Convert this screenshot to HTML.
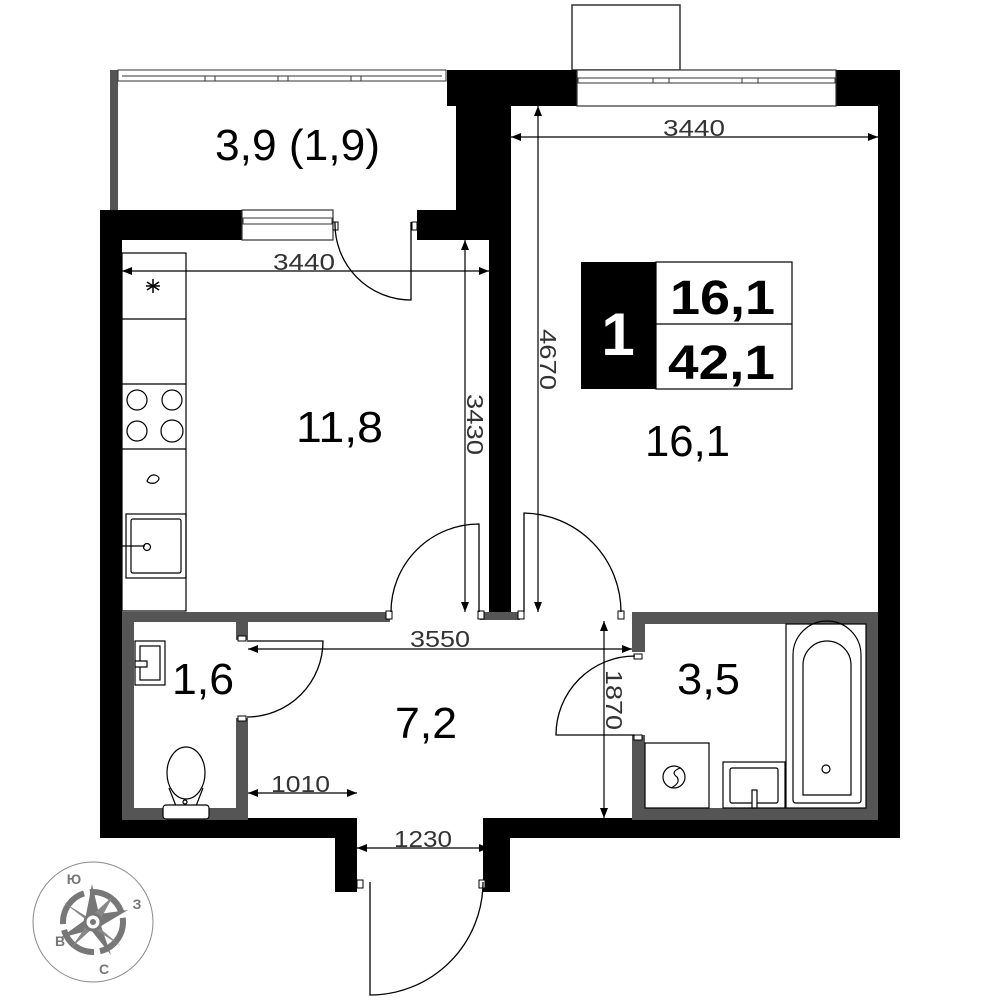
<!DOCTYPE html>
<html><head><meta charset="utf-8"><style>
html,body{margin:0;padding:0;background:#fff;}
svg{display:block;}
text{font-family:"Liberation Sans","DejaVu Sans",sans-serif;}
</style></head><body>
<svg width="1000" height="1000" viewBox="0 0 1000 1000" xmlns="http://www.w3.org/2000/svg">
<defs>
<marker id="ar" viewBox="0 0 10 10" refX="10" refY="5" markerWidth="20" markerHeight="10" markerUnits="userSpaceOnUse" orient="auto-start-reverse"><path d="M0,1 L10,5 L0,9 z" fill="#000"/></marker>
</defs>
<!-- balcony -->
<rect x="110" y="70" width="8" height="140" fill="#555"/>
<rect x="118" y="70" width="328" height="11" fill="#fff" stroke="#333" stroke-width="1"/>
<line x1="122" y1="76" x2="442" y2="76" stroke="#333"/>
<rect x="205" y="76" width="10" height="5" fill="#fff" stroke="#333"/>
<rect x="278" y="76" width="10" height="5" fill="#fff" stroke="#333"/>
<rect x="351" y="76" width="10" height="5" fill="#fff" stroke="#333"/>
<!-- top window box -->
<rect x="572" y="5" width="108" height="65" fill="#fff" stroke="#333" stroke-width="1.5"/>
<!-- black walls -->
<g fill="#000">
<rect x="447" y="70" width="130" height="36"/>
<rect x="456" y="70" width="55" height="170"/>
<rect x="489" y="100" width="22" height="520"/>
<rect x="836" y="70" width="64" height="36"/>
<rect x="878" y="70" width="22" height="768"/>
<rect x="100" y="210" width="22" height="628"/>
<rect x="100" y="210" width="142" height="30"/>
<rect x="417" y="210" width="73" height="30"/>
<rect x="100" y="818" width="257" height="20"/>
<rect x="490" y="818" width="410" height="20"/>
<rect x="335" y="818" width="22" height="74"/>
<rect x="483" y="818" width="27" height="74"/>
</g>
<!-- windows in black walls -->
<rect x="577" y="70" width="259" height="36" fill="#fff" stroke="#333" stroke-width="1.2"/>
<line x1="577" y1="78" x2="836" y2="78" stroke="#333"/>
<rect x="578" y="78" width="257" height="5" fill="#fff" stroke="#333"/>
<rect x="653" y="78" width="16" height="5" fill="#fff" stroke="#333"/>
<rect x="742" y="78" width="16" height="5" fill="#fff" stroke="#333"/>
<rect x="242" y="210" width="91" height="30" fill="#fff" stroke="#333" stroke-width="1.2"/>
<rect x="243" y="218" width="89" height="6" fill="#fff" stroke="#333"/>
<!-- grey partitions -->
<g fill="#555">
<rect x="122" y="612" width="268" height="10"/>
<rect x="480" y="612" width="40" height="8"/>
<rect x="632" y="612" width="246" height="12"/>
<rect x="122" y="612" width="12" height="208"/>
<rect x="122" y="808" width="126" height="12"/>
<rect x="236" y="612" width="12" height="28"/>
<rect x="236" y="718" width="12" height="102"/>
<rect x="632" y="612" width="13" height="40"/>
<rect x="632" y="735" width="13" height="85"/>
<rect x="866" y="612" width="12" height="208"/>
<rect x="632" y="808" width="246" height="12"/>
</g>
<!-- door stops -->
<g fill="#fff" stroke="#000" stroke-width="1">
<rect x="386" y="611" width="6" height="8"/><rect x="478" y="611" width="6" height="8"/>
<rect x="518" y="611" width="6" height="8"/><rect x="618" y="611" width="6" height="8"/>
<rect x="238" y="636" width="8" height="5"/><rect x="238" y="716" width="8" height="5"/>
<rect x="634" y="654" width="8" height="5"/><rect x="634" y="735" width="8" height="5"/>
<rect x="357" y="880" width="6" height="8"/><rect x="479" y="880" width="6" height="8"/>
<rect x="333" y="222" width="5" height="8"/><rect x="412" y="222" width="5" height="8"/>
</g>
<!-- doors -->
<g fill="none" stroke="#000" stroke-width="1.3">
<path d="M479,612 L479,524 A88,88 0 0 0 391,612"/>
<path d="M524,612 L524,513 A99,99 0 0 1 621,612"/>
<path d="M635,735 L556,735 A79,79 0 0 1 635,656"/>
<path d="M247,641 L323,641 A76,76 0 0 1 247,717"/>
<path d="M411,222 L411,300 A76,76 0 0 1 335,222"/>
<path d="M370,882 L370,995 A113,113 0 0 0 483,882"/>
</g>
<!-- kitchen -->
<g fill="none" stroke="#000" stroke-width="1.2">
<rect x="122" y="253" width="64" height="358"/>
<line x1="122" y1="319" x2="186" y2="319"/>
<line x1="122" y1="384" x2="186" y2="384"/>
<line x1="122" y1="449" x2="186" y2="449"/>
<rect x="126" y="514" width="60" height="64"/>
<rect x="131" y="519" width="50" height="54" rx="2"/>
<circle cx="137" cy="400" r="10"/><circle cx="172" cy="400" r="10"/>
<circle cx="137" cy="431" r="10"/><circle cx="172" cy="431" r="11"/>
<path d="M147,481 q3,-7 8,-6 q8,3 0,8 q-6,1 -8,-2z"/>
<line x1="122" y1="546" x2="145" y2="546"/><circle cx="147" cy="547" r="3.5"/>
<g stroke-width="1.5"><line x1="153" y1="279" x2="153" y2="293"/><line x1="147" y1="282" x2="159" y2="290"/><line x1="159" y1="282" x2="147" y2="290"/><line x1="146" y1="286" x2="160" y2="286"/></g>
</g>
<!-- WC -->
<g fill="none" stroke="#000" stroke-width="1.2">
<rect x="135" y="641" width="30" height="44"/>
<rect x="140" y="646" width="20" height="34"/>
<rect x="135" y="661" width="12" height="6" fill="#fff"/>
<ellipse cx="186" cy="773" rx="19" ry="26"/>
<path d="M169,788 L176,806 L196,806 L203,788"/>
<rect x="163" y="805" width="46" height="14" rx="3" fill="#fff"/>
<circle cx="185" cy="802" r="2"/>
</g>
<!-- bathroom -->
<g fill="none" stroke="#000" stroke-width="1.2">
<rect x="645" y="743" width="64" height="65"/>
<circle cx="674" cy="777" r="11"/><path d="M680,768 q-10,4 -3,9 q4,6 -6,11"/>
<rect x="723" y="762" width="62" height="46"/>
<rect x="730" y="768" width="48" height="35" rx="2"/>
<rect x="752" y="790" width="5" height="18" fill="#fff"/>
<rect x="786" y="624" width="80" height="184"/>
<path d="M793,800 L793,655 A28,28 0 0 1 861,655 L861,800 Q861,803 858,803 L796,803 Q793,803 793,800z"/>
<path d="M803,795 L803,665 A24,24 0 0 1 851,665 L851,795 L803,795z"/>
<circle cx="826" cy="769" r="4"/>
</g>
<!-- dimensions -->
<g stroke="#000" stroke-width="1.2" fill="none">
<line x1="122" y1="271" x2="489" y2="271" marker-start="url(#ar)" marker-end="url(#ar)"/>
<line x1="465" y1="240" x2="465" y2="612" marker-start="url(#ar)" marker-end="url(#ar)"/>
<line x1="511" y1="137" x2="878" y2="137" marker-start="url(#ar)" marker-end="url(#ar)"/>
<line x1="538" y1="106" x2="538" y2="612" marker-start="url(#ar)" marker-end="url(#ar)"/>
<line x1="248" y1="649" x2="632" y2="649" marker-start="url(#ar)" marker-end="url(#ar)"/>
<line x1="604" y1="621" x2="604" y2="818" marker-start="url(#ar)" marker-end="url(#ar)"/>
<line x1="248" y1="793" x2="357" y2="793" marker-start="url(#ar)" marker-end="url(#ar)"/>
<line x1="357" y1="848" x2="489" y2="848" marker-start="url(#ar)" marker-end="url(#ar)"/>
</g>
<g fill="#333" font-size="23">
<text x="273" y="270" textLength="62" lengthAdjust="spacingAndGlyphs">3440</text>
<text x="663" y="136" textLength="62" lengthAdjust="spacingAndGlyphs">3440</text>
<text x="410" y="647" textLength="60" lengthAdjust="spacingAndGlyphs">3550</text>
<text x="271" y="792" textLength="59" lengthAdjust="spacingAndGlyphs">1010</text>
<text x="394" y="847" textLength="58" lengthAdjust="spacingAndGlyphs">1230</text>
<text transform="translate(467,394) rotate(90)" textLength="61" lengthAdjust="spacingAndGlyphs">3430</text>
<text transform="translate(540,329) rotate(90)" textLength="61" lengthAdjust="spacingAndGlyphs">4670</text>
<text transform="translate(606,670) rotate(90)" textLength="60" lengthAdjust="spacingAndGlyphs">1870</text>
</g>
<!-- labels -->
<g fill="#000" font-size="44">
<text x="215" y="160" textLength="165" lengthAdjust="spacingAndGlyphs">3,9 (1,9)</text>
<text x="296" y="442" textLength="87" lengthAdjust="spacingAndGlyphs">11,8</text>
<text x="645" y="456" textLength="85" lengthAdjust="spacingAndGlyphs">16,1</text>
<text x="172" y="694" textLength="62" lengthAdjust="spacingAndGlyphs">1,6</text>
<text x="395" y="738" textLength="62" lengthAdjust="spacingAndGlyphs">7,2</text>
<text x="677" y="694" textLength="63" lengthAdjust="spacingAndGlyphs">3,5</text>
</g>
<!-- info box -->
<rect x="581" y="262" width="75" height="127" fill="#000"/>
<rect x="656" y="262" width="136" height="127" fill="#fff" stroke="#000" stroke-width="1.2"/>
<line x1="656" y1="324" x2="792" y2="324" stroke="#000" stroke-width="1.2"/>
<text x="618" y="355" font-size="60" font-weight="bold" fill="#fff" text-anchor="middle">1</text>
<text x="670" y="314" font-size="48" font-weight="bold" textLength="105" lengthAdjust="spacingAndGlyphs">16,1</text>
<text x="668" y="379" font-size="48" font-weight="bold" textLength="107" lengthAdjust="spacingAndGlyphs">42,1</text>
<!-- compass -->
<g transform="translate(93,922)">
<circle r="60" fill="#fff" stroke="#888" stroke-width="1"/>
<circle r="30" fill="none" stroke="#777" stroke-width="6" stroke-dasharray="40 6"/>
<path d="M-1,-38 L6,-8 L35,-12 L8,4 L18,33 L-2,8 L-33,16 L-8,-2z" fill="#777"/>
<path d="M-30,-20 L-4,-4 L20,-26 L4,4 L28,24 L0,6 L-22,26 L-4,0z" fill="#888"/>
<circle r="8" fill="#fff" stroke="#777" stroke-width="3"/>
<circle r="3" fill="#777"/>
<g fill="#777" font-size="14" font-weight="bold" text-anchor="middle">
<text x="-19" y="-38">Ю</text><text x="44" y="-13">З</text>
<text x="-33" y="24">В</text><text x="11" y="52">С</text>
</g>
</g>
</svg>
</body></html>
